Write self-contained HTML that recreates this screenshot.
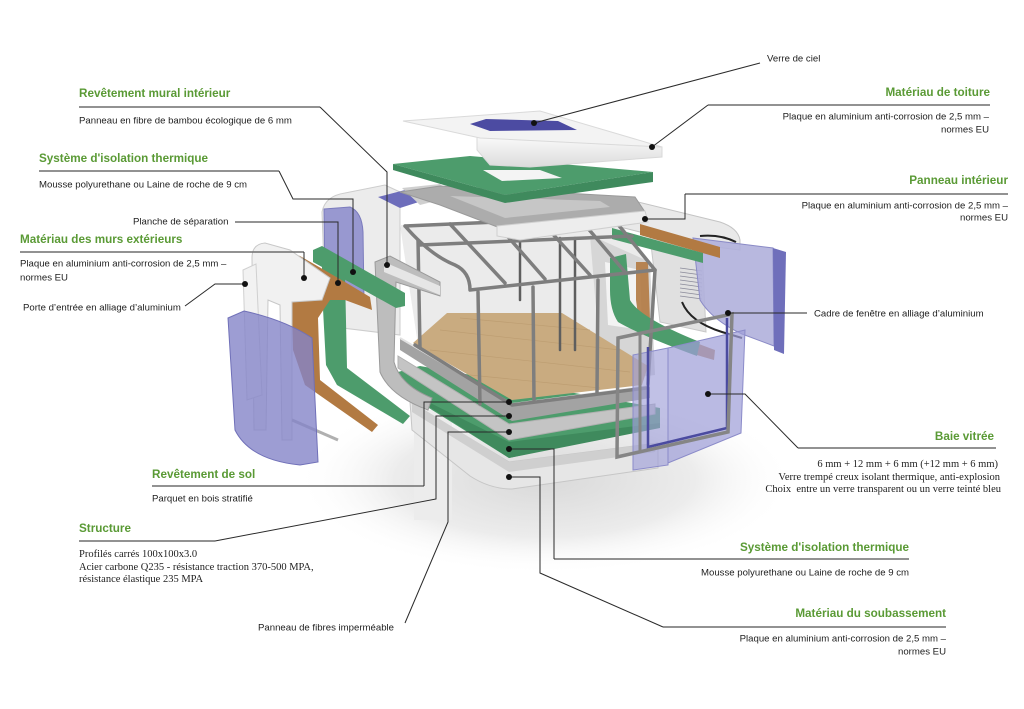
<!DOCTYPE html>
<html><head><meta charset="utf-8">
<style>
html,body{margin:0;padding:0;background:#fff;width:1024px;height:709px;overflow:hidden}
svg{display:block}
.h{font-family:"Liberation Sans",sans-serif;font-weight:bold;font-size:11.7px;fill:#5a9a35}
.t{font-family:"Liberation Sans",sans-serif;font-size:9.6px;fill:#1e1e1e}
.s{font-family:"Liberation Serif",serif;font-size:10.5px;fill:#1e1e1e}
.ld{stroke:#2a2a2a;stroke-width:1;fill:none}
.ul{stroke:#6e6e6e;stroke-width:1.6;fill:none}
.cg{stroke:#7e7e7e;stroke-width:3.5;fill:none;stroke-linecap:round;stroke-linejoin:round}
.cb{stroke:#5e5e5e;stroke-width:2.5;fill:none;stroke-linecap:round}
</style></head><body>
<svg width="1024" height="709" viewBox="0 0 1024 709" xmlns="http://www.w3.org/2000/svg">
<defs>
<radialGradient id="sh" cx="0.5" cy="0.5" r="0.5">
<stop offset="0" stop-color="#d9d9d9"/><stop offset="0.6" stop-color="#ececec"/><stop offset="1" stop-color="#ffffff" stop-opacity="0"/>
</radialGradient>
<linearGradient id="rf" x1="0" y1="0" x2="0" y2="1">
<stop offset="0" stop-color="#fafafa"/><stop offset="1" stop-color="#dcdcdc"/>
</linearGradient>
</defs>

<!-- ground shadow -->
<ellipse cx="545" cy="480" rx="250" ry="95" fill="url(#sh)"/>
<rect x="414" y="410" width="38" height="110" fill="#ececec"/>

<!-- back-left white box with window -->
<path d="M322,212 Q325,196 345,193 L385,185 L400,192 L400,335 L326,326 Z" fill="#ececec" stroke="#cdcdcd"/>
<path d="M324,209 L350,207 Q362,212 363,232 L364,300 L325,292 Z" fill="#9898d0" stroke="#7b7bbd"/>
<path d="M378,197 L405,190 L425,200 L400,208 Z" fill="#6d6dbb"/>
<path d="M402,188 L440,184 L455,196 L420,205 Z" fill="#cfcfcf"/>

<!-- interior back walls -->
<path d="M400,225 L615,215 L650,265 L652,370 L515,395 L418,345 Z" fill="#ebebeb"/>
<path d="M590,235 L650,262 L655,375 L602,382 Z" fill="#d6d6d6"/>
<path d="M605,262 L640,270 L642,330 L608,325 Z" fill="#f3f3f3"/>

<!-- right upper shell and wall -->
<path d="M630,200 L720,222 Q738,228 740,240 L740,250 L700,245 L640,232 L600,222 Z" fill="#e9e9e9" stroke="#c4c4c4"/>
<path d="M650,236 L702,247 L706,332 L660,322 Z" fill="#e0e0e0" stroke="#c8c8c8"/>
<g stroke="#8a8a9a" stroke-width="0.8">
<line x1="680" y1="268" x2="702" y2="271"/><line x1="680" y1="272" x2="702" y2="275"/>
<line x1="680" y1="276" x2="702" y2="279"/><line x1="680" y1="280" x2="702" y2="283"/>
<line x1="680" y1="284" x2="702" y2="287"/><line x1="680" y1="288" x2="702" y2="291"/>
<line x1="680" y1="292" x2="702" y2="295"/><line x1="680" y1="296" x2="702" y2="299"/>
</g>
<path d="M682,302 Q690,322 722,332 L742,338" stroke="#222" stroke-width="2" fill="none"/>
<path d="M700,236 Q720,234 736,242" stroke="#222" stroke-width="2" fill="none"/>

<!-- right outer purple panel -->
<path d="M693,238 L773,248 L774,346 L742,334 Q712,320 700,300 Z" fill="#b0b0dc" fill-opacity="0.9" stroke="#8a8ac6"/>
<path d="M773,248 L786,252 L784,354 L774,350 Z" fill="#6f6fbb"/>

<!-- right green/brown strips -->
<path d="M640,224 L720,247 L720,258 L640,235 Z" fill="#b27a42"/>
<path d="M612,228 L703,253 L703,263 L612,239 Z" fill="#4d9c6c"/>
<path d="M636,262 L648,262 L650,320 Q660,330 715,350 L714,360 Q660,345 640,330 L636,300 Z" fill="#b27a42" opacity="0.9"/>
<path d="M610,258 L626,254 L630,300 Q640,318 700,342 L697,356 Q640,335 618,322 Q610,310 610,290 Z" fill="#4d9c6c"/>

<!-- floor layers -->
<path d="M410,402 L509,462 L658,443 L658,468 L512,489 Q490,489 470,476 L412,430 Z" fill="#e6e6e6" stroke="#c6c6c6"/>
<path d="M412,402 L509,462 L658,443 L655,452 L509,472 L412,412 Z" fill="#cfcfcf"/>
<path d="M398,372 L420,366 L660,408 L660,425 L509,458 L400,390 Z" fill="#4d9c6c"/>
<path d="M400,388 L509,442 L660,423 L660,428 L509,458 Z" fill="#3f8a5d"/>
<path d="M398,356 L509,424 L655,404 L655,414 L509,440 L398,368 Z" fill="#c4c4c4" stroke="#b0b0b0"/>
<path d="M400,338 L512,404 L650,386 L650,398 L512,421 L400,350 Z" fill="#a3a3a3"/>
<path d="M400,338 L512,404 L650,386" stroke="#e2e2e2" stroke-width="2" fill="none"/>

<!-- parquet -->
<path d="M413,343 L447,313 L562,313 L648,366 L642,385 L512,400 Z" fill="#c9ab80"/>
<g stroke="#b8986c" stroke-width="0.7" opacity="0.7">
<line x1="440" y1="330" x2="620" y2="350"/><line x1="430" y1="350" x2="630" y2="372"/>
<line x1="460" y1="318" x2="590" y2="330"/><line x1="470" y1="375" x2="600" y2="388"/>
</g>

<!-- cage -->
<path class="cb" d="M560,238 L560,350 M575,238 L575,350 M520,230 L520,300"/>
<path class="cg" d="M405,226 L612,217 L655,270 L470,290 Q470,272 455,265 Q430,255 405,226"/>
<path class="cg" d="M450,224 L505,283 M495,222 L545,279 M540,220 L590,275 M580,219 L625,272 M420,245 L632,236"/>
<path class="cg" d="M418,240 L420,348 M478,292 L480,404 M533,287 L534,400 M598,280 L597,393 M655,270 L648,384"/>
<path class="cg" d="M415,345 L512,405 L646,388"/>

<!-- left gray shell (planche) -->
<path d="M375,262 L390,256 L440,282 L440,296 L396,282 L394,362 Q400,385 432,398 L428,410 Q390,396 380,372 Z" fill="#bdbdbd" stroke="#9a9a9a"/>
<path d="M384,262 L440,286 L440,295 L384,272 Z" fill="#e6e6e6"/>

<!-- ceiling tray -->
<path d="M400,192 L440,186 L635,197 L645,212 L500,228 L440,205 Z" fill="#acacac" stroke="#9a9a9a"/>
<path d="M450,196 L600,201 L610,207 L505,218 Z" fill="#c6c6c6"/>
<path d="M497,226 L645,211 L648,222 L520,240 L497,236 Z" fill="#ededed" stroke="#cfcfcf"/>

<!-- green roof plate -->
<path d="M393,164 L470,156 L653,172 L505,195 Z" fill="#4d9c6c"/>
<path d="M393,164 L505,195 L653,172 L653,182 L505,203 L393,170 Z" fill="#3f8a5d"/>
<path d="M483,170 L540,170 L562,178 L502,181 Z" fill="#f4f4f4"/>

<!-- roof -->
<path d="M477,137 L662,147 L662,157 L530,167 L490,165 L477,150 Z" fill="url(#rf)" stroke="#d8d8d8"/>
<path d="M403,121 L540,111 L662,147 L480,138 Z" fill="#f3f3f3" stroke="#dadada"/>
<path d="M470,124 L486,119 L558,121 L577,130 L490,131 Z" fill="#4c4ba2"/>

<!-- left components -->
<path d="M313,250 L322,246 L405,293 L405,306 L396,308 L313,262 Z" fill="#4d9c6c"/>
<path d="M322,262 L345,275 L347,368 L410,416 L403,424 L337,385 L326,365 L322,290 Z" fill="#4d9c6c"/>
<path d="M288,252 L300,256 L345,282 L370,297 L372,310 L345,300 L330,300 L318,318 L320,380 L378,425 L372,432 L305,385 L293,350 L292,302 L310,290 L330,280 L288,255 Z" fill="#b27a42"/>
<path d="M252,258 Q252,244 265,243 L290,250 L330,278 L322,300 L292,302 L292,440 L282,440 L280,305 L268,300 L266,430 L254,430 Z" fill="#f1f1f1" stroke="#c8c8c8"/>
<path d="M292,420 L338,440" stroke="#b0b0b0" stroke-width="3"/>
<path d="M243,270 L256,264 L262,395 L247,400 Z" fill="#f2f2f2" stroke="#d0d0d0"/>
<path d="M228,318 L244,311 Q285,320 312,338 L318,462 L300,465 Q250,460 235,430 Z" fill="#8585c8" fill-opacity="0.8" stroke="#7070b8"/>

<!-- right window frames & glass -->
<path d="M633,355 L668,348 L668,465 L633,470 Z" fill="#a0a0d8" fill-opacity="0.65" stroke="#8b8bc9"/>
<path d="M668,348 L745,330 L741,433 L668,463 Z" fill="#a0a0d8" fill-opacity="0.72" stroke="#8b8bc9"/>
<path d="M648,347 L648,447 L727,428 L727,318" stroke="#4b4ba0" stroke-width="2.5" fill="none"/>
<path d="M618,338 L732,314 L728,432 L617,457 Z" stroke="#858585" stroke-width="3.5" fill="none"/>
<path d="M640,334 L640,452" stroke="#858585" stroke-width="3"/>

<!-- leader lines -->
<path class="ul" d="M79,107 L320,107"/><path class="ld" d="M320,107 L387,172 L387,265"/>
<path class="ul" d="M39,171 L279,171"/><path class="ld" d="M279,171 L293,199 L353,199 L353,272"/>
<path class="ld" d="M235,222 L338,222 L338,283"/>
<path class="ul" d="M20,252 L304,252"/><path class="ld" d="M304,252 L304,278"/>
<path class="ld" d="M185,306 L215,284 L245,284"/>
<path class="ul" d="M152,486 L424,486"/><path class="ld" d="M424,486 L424,402 L509,402"/>
<path class="ul" d="M79,541 L215,541"/><path class="ld" d="M215,541 L436,499 L436,416 L509,416"/>
<path class="ld" d="M405,623 L448,522 L448,432 L509,432"/>
<path class="ld" d="M760,63 L534,123"/>
<path class="ul" d="M990,105 L708,105"/><path class="ld" d="M708,105 L652,147"/>
<path class="ul" d="M1008,194 L685,194"/><path class="ld" d="M685,194 L685,219 L645,219"/>
<path class="ld" d="M807,313 L728,313"/>
<path class="ul" d="M996,448 L798,448"/><path class="ld" d="M798,448 L745,394 L708,394"/>
<path class="ul" d="M909,559 L554,559"/><path class="ld" d="M554,559 L554,449 L509,449"/>
<path class="ul" d="M946,627 L663,627"/><path class="ld" d="M663,627 L540,573 L540,477 L509,477"/>
<g fill="#111">
<circle cx="387" cy="265" r="3"/><circle cx="353" cy="272" r="3"/><circle cx="338" cy="283" r="3"/>
<circle cx="304" cy="278" r="3"/><circle cx="245" cy="284" r="3"/><circle cx="509" cy="402" r="3"/>
<circle cx="509" cy="416" r="3"/><circle cx="509" cy="432" r="3"/><circle cx="509" cy="449" r="3"/>
<circle cx="509" cy="477" r="3"/><circle cx="534" cy="123" r="3"/><circle cx="652" cy="147" r="3"/>
<circle cx="645" cy="219" r="3"/><circle cx="728" cy="313" r="3"/><circle cx="708" cy="394" r="3"/>
</g>

<!-- left texts -->
<text class="h" x="79" y="97">Revêtement mural intérieur</text>
<text class="t" x="79" y="123.5">Panneau en fibre de bambou écologique de 6 mm</text>
<text class="h" x="39" y="162">Système d'isolation thermique</text>
<text class="t" x="39" y="187.5">Mousse polyurethane ou Laine de roche de 9 cm</text>
<text class="t" x="133" y="224.5">Planche de séparation</text>
<text class="h" x="20" y="243">Matériau des murs extérieurs</text>
<text class="t" x="20" y="266.5">Plaque en aluminium anti-corrosion de 2,5 mm –</text>
<text class="t" x="20" y="280.5">normes EU</text>
<text class="t" x="23" y="310.5">Porte d’entrée en alliage d’aluminium</text>
<text class="h" x="152" y="478">Revêtement de sol</text>
<text class="t" x="152" y="501.5">Parquet en bois stratifié</text>
<text class="h" x="79" y="532">Structure</text>
<text class="s" x="79" y="557">Profilés carrés 100x100x3.0</text>
<text class="s" x="79" y="570">Acier carbone Q235 - résistance traction 370-500 MPA,</text>
<text class="s" x="79" y="582">résistance élastique 235 MPA</text>
<text class="t" x="258" y="630.5">Panneau de fibres imperméable</text>

<!-- right texts -->
<text class="t" x="767" y="61.5">Verre de ciel</text>
<text class="h" x="990" y="96" text-anchor="end">Matériau de toiture</text>
<text class="t" x="989" y="119.5" text-anchor="end">Plaque en aluminium anti-corrosion de 2,5 mm –</text>
<text class="t" x="989" y="132.5" text-anchor="end">normes EU</text>
<text class="h" x="1008" y="184" text-anchor="end">Panneau intérieur</text>
<text class="t" x="1008" y="208.5" text-anchor="end">Plaque en aluminium anti-corrosion de 2,5 mm –</text>
<text class="t" x="1008" y="220.5" text-anchor="end">normes EU</text>
<text class="t" x="814" y="316.5">Cadre de fenêtre en alliage d’aluminium</text>
<text class="h" x="994" y="440" text-anchor="end">Baie vitrée</text>
<text class="s" x="998" y="467" text-anchor="end">6 mm + 12 mm + 6 mm (+12 mm + 6 mm)</text>
<text class="s" x="1000" y="480" text-anchor="end">Verre trempé creux isolant thermique, anti-explosion</text>
<text class="s" x="1001" y="492" text-anchor="end">Choix&#160; entre un verre transparent ou un verre teinté bleu</text>
<text class="h" x="909" y="551" text-anchor="end">Système d'isolation thermique</text>
<text class="t" x="909" y="575.5" text-anchor="end">Mousse polyurethane ou Laine de roche de 9 cm</text>
<text class="h" x="946" y="617" text-anchor="end">Matériau du soubassement</text>
<text class="t" x="946" y="641.5" text-anchor="end">Plaque en aluminium anti-corrosion de 2,5 mm –</text>
<text class="t" x="946" y="654.5" text-anchor="end">normes EU</text>
</svg>
</body></html>
